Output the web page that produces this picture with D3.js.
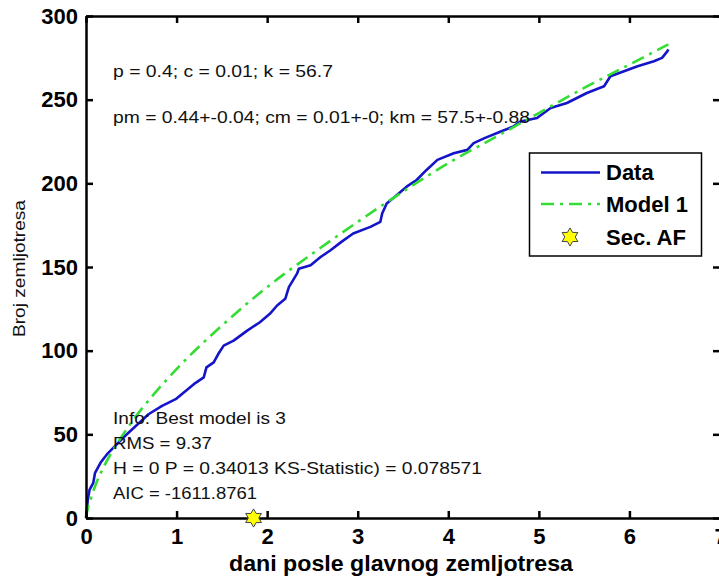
<!DOCTYPE html>
<html lang="sr">
<head>
  <meta charset="UTF-8">
  <title>Broj zemljotresa - dani posle glavnog zemljotresa</title>
  <script src="https://cdnjs.cloudflare.com/ajax/libs/d3/7.8.5/d3.min.js"></script>
  <style>
    body { margin: 0; background: #fff; }
    svg { display: block; }
    .axis text {
      font-family: "Liberation Sans", Arial, sans-serif;
      font-size: 22px;
      font-weight: bold;
      fill: #000;
    }
    .axis path, .axis line {
      stroke: #000;
      stroke-width: 2.5px;
    }
    .note {
      font-family: "Liberation Sans", Arial, sans-serif;
      font-size: 17px;
      fill: #111;
    }
    .legend text {
      font-family: "Liberation Sans", Arial, sans-serif;
      font-size: 22px;
      font-weight: bold;
      fill: #000;
    }
  </style>
</head>
<body>
  <svg width="719" height="577"></svg>
  <script>
    // kumulativni broj dogadjaja (ocitano sa slike)
    const dataDays = [0, 0.01, 0.02, 0.04, 0.08, 0.10, 0.16, 0.23, 0.32, 0.43, 0.55, 0.69, 0.84, 0.99,
      1.08, 1.19, 1.30, 1.33, 1.41, 1.46, 1.52, 1.63, 1.78, 1.92, 2.03, 2.11, 2.20, 2.24, 2.33, 2.35,
      2.48, 2.59, 2.70, 2.82, 2.95, 3.14, 3.25, 3.27, 3.32, 3.41, 3.54, 3.65, 3.76, 3.88, 4.06, 4.21,
      4.28, 4.40, 4.58, 4.72, 4.80, 4.98, 5.13, 5.31, 5.53, 5.72, 5.79, 5.94, 6.09, 6.27, 6.36, 6.42, 6.43]
    const dataCount = [0, 5, 11, 17, 21, 27, 33, 38, 43, 49, 55, 62, 67, 71,
      75, 80, 84, 90, 93, 98, 103, 106, 112, 117, 122, 127, 131, 138, 146, 149,
      151, 156, 160, 165, 170, 174, 177, 182, 188, 192, 198, 202, 208, 214, 218, 220,
      224, 227, 231, 234, 237, 239, 245, 248, 254, 258, 264, 267, 270, 273, 275, 279, 280]

    // Model 1 (ocitano sa slike)
    const modelDays = [0, 0.02, 0.05, 0.1, 0.2, 0.35, 0.5, 0.75, 1, 1.5, 2, 2.5, 3, 3.5, 4, 4.5, 5, 5.5, 6, 6.43]
    const modelCount = [0, 6, 11, 19, 31, 45, 57, 74, 89, 115, 138, 158, 177, 195, 212, 227, 242, 257, 271, 283]

    // sekundarni naknadni udar
    const secDays = [1.85]
    const secCount = [0]

    const xTicks = [0, 1, 2, 3, 4, 5, 6, 7]
    const yTicks = [0, 50, 100, 150, 200, 250, 300]

    const topNotes = [
      'p = 0.4; c = 0.01; k = 56.7',
      'pm = 0.44+-0.04; cm = 0.01+-0; km = 57.5+-0.88'
    ]
    const bottomNotes = [
      'Info: Best model is 3',
      'RMS = 9.37',
      'H = 0 P = 0.34013 KS-Statistic) = 0.078571',
      'AIC = -1611.8761'
    ]
    const legendLabels = ['Data', 'Model 1', 'Sec. AF']

    const svg = d3.select('svg')
    const x = d3.scaleLinear().domain([0, 7]).range([86, 720])
    const y = d3.scaleLinear().domain([0, 300]).range([518, 16])

    // heksagram kao marker
    const hexagram = {
      draw(context, size) {
        const r = Math.sqrt(size) / 2
        for (let i = 0; i < 12; i++) {
          const a = i * Math.PI / 6 - Math.PI / 2
          const rr = i % 2 === 0 ? r : r / Math.sqrt(3)
          if (i === 0) context.moveTo(rr * Math.cos(a), rr * Math.sin(a))
          else context.lineTo(rr * Math.cos(a), rr * Math.sin(a))
        }
        context.closePath()
      }
    }
    const star = d3.symbol().type(hexagram).size(330)

    // linije
    const line = d3.line().x(d => x(d[0])).y(d => y(d[1]))

    svg.append('path')
      .datum(dataDays.map((d, i) => [d, dataCount[i]]))
      .attr('d', line)
      .attr('fill', 'none')
      .attr('stroke', '#1414c8')
      .attr('stroke-width', 2.6)
      .attr('stroke-linejoin', 'round')

    svg.append('path')
      .datum(modelDays.map((d, i) => [d, modelCount[i]]))
      .attr('d', line.curve(d3.curveMonotoneX))
      .attr('fill', 'none')
      .attr('stroke', '#33dd33')
      .attr('stroke-width', 2.6)
      .attr('stroke-dasharray', '13,6,3,6')

    // ose
    svg.append('g').attr('class', 'axis')
      .attr('transform', 'translate(0,518)')
      .call(d3.axisBottom(x).tickValues(xTicks).tickFormat(d3.format('d'))
        .tickSizeInner(-7).tickSizeOuter(0).tickPadding(10))

    svg.append('g').attr('class', 'axis')
      .attr('transform', 'translate(0,16)')
      .call(d3.axisTop(x).tickValues(xTicks).tickFormat('')
        .tickSizeInner(-7).tickSizeOuter(0))

    svg.append('g').attr('class', 'axis')
      .attr('transform', 'translate(86,0)')
      .call(d3.axisLeft(y).tickValues(yTicks).tickFormat(d3.format('d'))
        .tickSizeInner(-7).tickSizeOuter(0).tickPadding(8))

    svg.append('g').attr('class', 'axis')
      .attr('transform', 'translate(720,0)')
      .call(d3.axisRight(y).tickValues(yTicks).tickFormat('')
        .tickSizeInner(-7).tickSizeOuter(0))

    // marker na osi
    svg.selectAll('.sec')
      .data(secDays.map((d, i) => [d, secCount[i]]))
      .join('path')
      .attr('class', 'sec')
      .attr('transform', d => `translate(${x(d[0])},${y(d[1])})`)
      .attr('d', star)
      .attr('fill', '#ffff00')
      .attr('stroke', '#444')
      .attr('stroke-width', 1)

    // tekstovi
    const topW = [220, 417]
    svg.selectAll('.topnote')
      .data(topNotes)
      .join('text')
      .attr('class', 'note topnote')
      .attr('x', 113)
      .attr('y', (d, i) => 76.5 + i * 46)
      .attr('textLength', (d, i) => topW[i])
      .attr('lengthAdjust', 'spacingAndGlyphs')
      .text(d => d)

    const botW = [173, 99, 369, 144]
    svg.selectAll('.botnote')
      .data(bottomNotes)
      .join('text')
      .attr('class', 'note botnote')
      .attr('x', 113)
      .attr('y', (d, i) => 424 + i * 25)
      .attr('textLength', (d, i) => botW[i])
      .attr('lengthAdjust', 'spacingAndGlyphs')
      .text(d => d)

    svg.append('text')
      .attr('class', 'note')
      .attr('transform', 'translate(25,268.5) rotate(-90)')
      .attr('text-anchor', 'middle')
      .style('font-size', '16px')
      .attr('textLength', 137)
      .attr('lengthAdjust', 'spacingAndGlyphs')
      .text('Broj zemljotresa')

    svg.append('text')
      .attr('x', 401)
      .attr('y', 571)
      .attr('text-anchor', 'middle')
      .style('font-family', '"Liberation Sans", Arial, sans-serif')
      .style('font-size', '22px')
      .style('font-weight', 'bold')
      .attr('textLength', 344)
      .attr('lengthAdjust', 'spacingAndGlyphs')
      .text('dani posle glavnog zemljotresa')

    // legenda
    const lg = svg.append('g').attr('class', 'legend')
    lg.append('rect')
      .attr('x', 529.5).attr('y', 153)
      .attr('width', 172).attr('height', 103)
      .attr('fill', '#fff')
      .attr('stroke', '#000')
      .attr('stroke-width', 1.5)

    const rowY = [172.5, 204, 237]
    lg.append('line')
      .attr('x1', 541).attr('x2', 600).attr('y1', rowY[0]).attr('y2', rowY[0])
      .attr('stroke', '#1414c8').attr('stroke-width', 2.6)
    lg.append('line')
      .attr('x1', 541).attr('x2', 600).attr('y1', rowY[1]).attr('y2', rowY[1])
      .attr('stroke', '#33dd33').attr('stroke-width', 2.6)
      .attr('stroke-dasharray', '13,6,3,6')
    lg.append('path')
      .attr('transform', `translate(570,${rowY[2]})`)
      .attr('d', star)
      .attr('fill', '#ffff00')
      .attr('stroke', '#444')
      .attr('stroke-width', 1)

    lg.selectAll('.lbl')
      .data(legendLabels)
      .join('text')
      .attr('class', 'lbl')
      .attr('x', 606)
      .attr('y', (d, i) => rowY[i])
      .attr('dy', '0.36em')
      .text(d => d)
  </script>
</body>
</html>
